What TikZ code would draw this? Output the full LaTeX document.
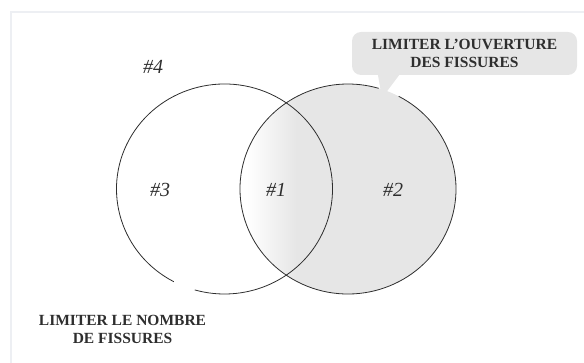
\documentclass[tikz,border=0pt]{standalone}
\usepackage{fontspec}
\setmainfont{Liberation Serif}
\usetikzlibrary{positioning}
\usepackage{xcolor}
\definecolor{setgray}{HTML}{E6E6E6}
\definecolor{inkgray}{HTML}{2E2E2E}
\definecolor{framegray}{HTML}{EDEFF3}
\pgfdeclarehorizontalshading{crackfade}{100bp}{color(0bp)=(white); color(26.5bp)=(white); color(38bp)=(setgray); color(100bp)=(setgray)}

\begin{document}
\begin{tikzpicture}[
x=1pt, y=-1pt,
ring/.style={draw=inkgray, line width=0.8pt},
num/.style={text=inkgray, font=\fontsize{20}{22}\selectfont\itshape},
caption/.style={text=inkgray, align=center, font=\fontsize{15.5}{18}\selectfont\bfseries},
bubble/.style={caption, fill=setgray, rounded corners=9pt, minimum width=225pt, minimum height=43pt, inner sep=0pt},
]
\useasboundingbox (0,0) rectangle (584,363);
% frame
\draw[framegray, line width=1.2pt] (11,363) -- (11,12) -- (584,12);

% sets
\coordinate (cL) at (224.5,189);
\coordinate (cR) at (348,189);
\shade[shading=crackfade] (cR) ellipse[x radius=108, y radius=105];
\draw[ring] ([shift={(118:108 and 105)}]cL) arc[start angle=118, end angle=466, x radius=108, y radius=105];
\draw[ring] ([shift={(-62:108 and 105)}]cR) arc[start angle=-62, end angle=286.5, x radius=108, y radius=105];

% nodes
\node[num] (n4) at (153,67) {\#4};
\node[num] (n3) at (160,190) {\#3};
\node[num] (n1) at (276,190) {\#1};
\node[num] (n2) at (393,190) {\#2};
\node[bubble] (open) at (464.5,53.5) {LIMITER L’OUVERTURE\\DES FISSURES};
\node[caption] (count) at (122.5,329) {LIMITER LE NOMBRE\\DE FISSURES};

% pointer
\coordinate (tip) at (382,98);
\fill[setgray] ([xshift=26pt,yshift=1pt]open.south west) -- (tip) -- ([xshift=48pt,yshift=1pt]open.south west) -- cycle;
\end{tikzpicture}
\end{document}
